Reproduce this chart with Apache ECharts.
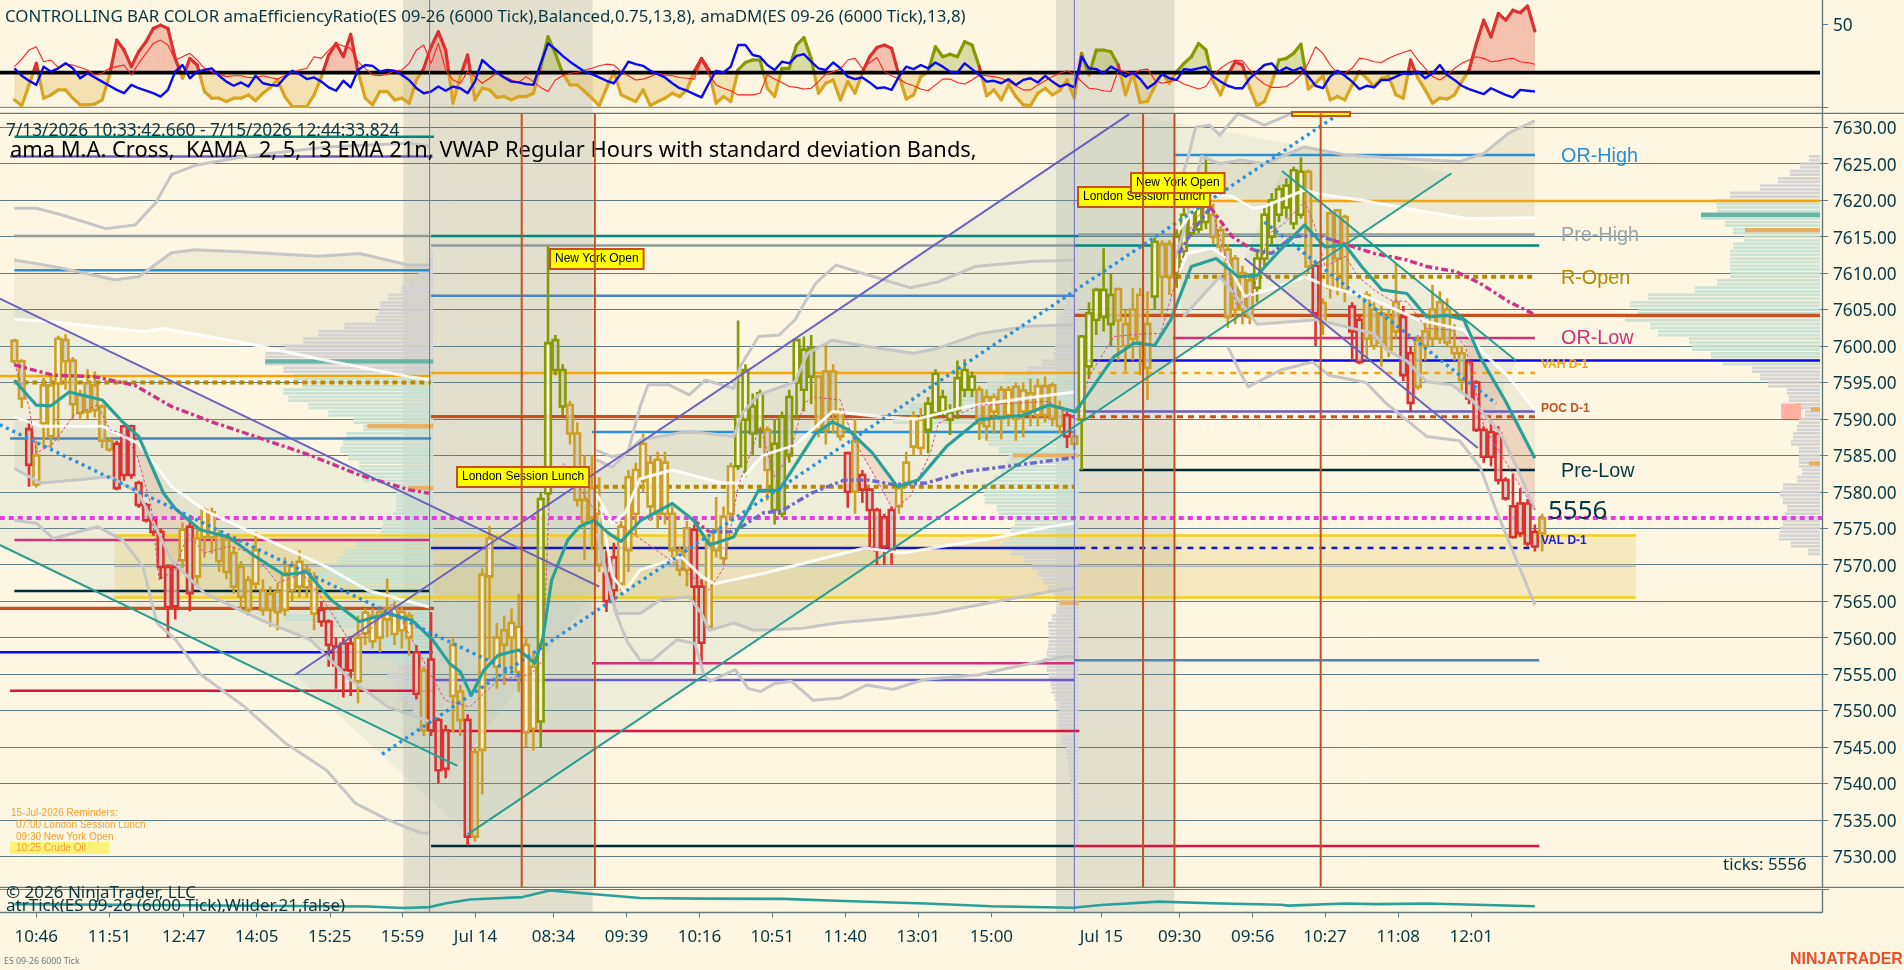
<!DOCTYPE html>
<html><head><meta charset="utf-8">
<style>html,body{margin:0;padding:0;background:#fdf6e3}#c{width:1904px;height:970px}</style>
<script src="https://cdn.jsdelivr.net/npm/echarts@6/dist/echarts.min.js"></script></head>
<body><div id="c"></div>
<script>
// ---------- DATA ----------
const priceTicks=[7530,7535,7540,7545,7550,7555,7560,7565,7570,7575,7580,7585,7590,7595,7600,7605,7610,7615,7620,7625,7630];
const timeLabels=['10:46','11:51','12:47','14:05','15:25','15:59','Jul 14','08:34','09:39','10:16','10:51','11:40','13:01','15:00','Jul 15','09:30','09:56','10:27','11:08','12:01'];
const timeTickBars=[3,13,23.16,33.15,43.15,53.08,63.08,73.75,83.73,93.73,103.66,113.67,123.66,133.65,148.7,159.4,169.4,179.3,189.3,199.3];
// rows: open, close, high, low
const barsSessionOne=[
[7600.7,7597.9,7601,7597.5],[7597.9,7592.8,7598.2,7591.5],[7588.6,7583.7,7590,7580.7],[7581,7585,7587,7580.6],[7589.4,7594.6,7595.6,7586],
[7587.6,7594.6,7596,7586],[7594.9,7601,7601.4,7587],[7600.8,7597.9,7601.6,7594],[7598,7592,7598.5,7590],[7593.3,7590.8,7594,7589.8],
[7594.9,7591,7596.8,7590],[7594.6,7591.2,7596.5,7590.2],[7591.7,7587,7592,7586],[7587,7585.8,7587.5,7585.5],[7586.6,7580.5,7587,7580.2],
[7589,7582.3,7589.2,7581.5],[7589,7582.3,7589.2,7581.8],[7581.2,7578.2,7581.5,7577.8],[7578.2,7576.1,7578.5,7575.8],[7576.1,7574.5,7576.5,7574],
[7574.5,7569.7,7575,7568],[7569.7,7564.2,7570,7560],[7569.7,7564.3,7570,7562.5],[7570.6,7574.8,7575.8,7569.5],[7575.2,7566.1,7575.8,7563.6],
[7568.4,7573.6,7575,7567],[7573.8,7577.5,7577.8,7571],[7573.8,7577.2,7577.8,7571.5],[7574,7570.5,7574.8,7569],[7573.5,7569,7574.2,7568],
[7571.6,7567,7572.5,7566],[7569.7,7565.6,7570.5,7563.5],[7567.9,7563.8,7568.5,7563],[7567.4,7572,7574.5,7566.5],[7566.5,7563.8,7568,7563],
[7566,7563.8,7567,7561.5],[7566.3,7563.5,7567.5,7561],[7563.8,7568.8,7571,7563],[7566.5,7569.8,7570.5,7565],[7567,7570.4,7572,7565.5],
[7566.9,7569.3,7570,7565.5],[7563.3,7568.3,7569,7561],[7563.8,7562.2,7565,7561.5],[7562.2,7559,7562.5,7556],[7558.8,7556.2,7560,7553],
[7559.2,7555.6,7560,7551.8],[7559.2,7555.5,7560,7552],[7554,7560,7563,7551],[7560.6,7563.4,7564,7559],[7559.5,7563,7564,7558.5],
[7560,7563.5,7564,7558],[7562.5,7564,7568.1,7560],[7560.5,7564,7565,7559],[7561,7563.5,7564.3,7558.5],[7560,7563,7563.5,7557.5],
[7558,7552.3,7559,7551.5],[7555.5,7547.3,7556,7546.5]];
const barsSessionTwo=[
[7557,7547.3,7563.5,7546.5],[7548.7,7541.8,7549,7540],[7547.3,7542,7548,7540.7],[7552,7559,7560,7547],[7552.6,7548.7,7553.5,7546.5],
[7548.7,7532.7,7549.5,7531.5],[7544.3,7532.7,7545,7532],[7544.6,7568.6,7569.5,7538.5],[7568.4,7573.6,7575.3,7557],[7556,7560,7562,7553],
[7561,7559,7563,7553.5],[7560,7562,7564,7555],[7555.3,7561.5,7566,7552.5],[7547,7559,7560,7545],[7547.5,7556,7558,7544.5],
[7548.5,7579,7580,7545],[7579.8,7600.4,7613.7,7578],[7600.8,7596.7,7601.5,7596],[7596.7,7591.7,7597.5,7590.5],[7591.9,7588,7592.5,7586.5],
[7588,7578.9,7589.5,7578],[7578.9,7575.8,7585,7570.6],[7580.5,7576.5,7585,7572],[7577,7570,7582,7569],[7568.8,7565,7572,7563.5],
[7571,7566.5,7573,7564.8],[7567.4,7575.2,7576,7566.5],[7572,7582,7583,7569],[7577,7583,7584,7574],[7581.5,7586.6,7588,7580],
[7578,7584,7585,7576],[7577,7584.4,7585.5,7575],[7577,7584,7585.5,7575.5],[7577,7572,7578,7571],[7572,7569.3,7572.5,7568.4],
[7575,7569.3,7576,7567],[7574.8,7567,7575.5,7555],[7567,7559.3,7568,7556.7],[7561.5,7573,7574,7561],[7572,7574.8,7579.3,7571],
[7570.9,7576.6,7578,7570],[7577,7583.5,7584,7576],[7583.5,7590.3,7603.5,7583],[7589.9,7596.7,7597.5,7582],[7591.7,7588,7593.5,7585],
[7588.5,7593.5,7594,7586],[7588.5,7583,7589,7578.8],[7586.6,7577.5,7590,7575.5],[7590.3,7577,7591,7576.5],[7593,7585,7594,7584],
[7595,7600.8,7601,7590],[7599.5,7594,7601.3,7591],[7599.7,7595.8,7601.5,7592],[7595.8,7588.5,7596,7587.5],[7596.5,7588.5,7600.4,7586.5],
[7596.5,7590.8,7597.5,7588],[7590.8,7587.6,7591.5,7587],[7585.3,7580,7585.5,7577.8],[7587,7580,7590,7577],[7582.3,7580.3,7583,7578.5],
[7580.3,7577.5,7580.5,7572],[7577.5,7572,7577.8,7570],[7576.5,7572.5,7577,7570],[7577.5,7572,7578,7570],[7578,7580.5,7581,7577],
[7581.2,7584,7585.5,7580.5],[7586.2,7590.3,7591,7585],[7586,7589.9,7591.5,7585],[7588.5,7592.1,7593,7585.3],[7590.8,7596.2,7596.8,7590],
[7591,7593,7594,7590.5],[7589.9,7590.8,7592,7587.8],[7591.2,7595.6,7598,7590],[7594,7596.7,7598.2,7593],[7594,7595.8,7596.5,7593],
[7594,7589.4,7594.5,7587.1],[7593,7589,7594,7587],[7591,7593,7593.5,7588],[7594,7590,7594.5,7587.2],[7590.5,7594,7594.5,7589],
[7594.4,7590,7595,7587],[7591,7593.9,7595,7587.5],[7593.5,7591,7595.5,7589],[7590.5,7594.5,7595.5,7589],[7594.5,7590.5,7595.8,7589.5],
[7594.6,7590,7595,7589],[7591.5,7589,7592.5,7588],[7590.5,7587.6,7591,7586]];
const barsSessionThree=[
[7587.6,7586.6,7588.5,7585.8],[7589.9,7601.3,7601.5,7583],[7597.2,7604.5,7606,7595.5],[7603.6,7607.7,7608,7601.5],[7604,7607.7,7613.4,7602],
[7607,7603,7610,7600],[7607.8,7603.5,7608,7598],[7603,7600,7605,7596.5],[7605,7601,7608,7598],[7607,7600.5,7608,7596],
[7603,7597,7607.5,7592.6],[7606.8,7614.3,7614.9,7605],[7614,7609.5,7614.5,7604],[7614,7609.5,7614.5,7607],[7610,7615,7616,7608],
[7613,7618,7619,7612],[7615.5,7619.5,7620,7615],[7616,7619,7622,7615.5],[7617,7621,7626,7616],[7618,7615,7619.5,7614],
[7615.9,7613.6,7616.5,7612.5],[7613.2,7604,7614,7602.5],[7612,7605,7612.5,7603],[7610,7605,7611,7603],[7609,7604,7610,7603],
[7608,7612,7613,7606],[7612,7618,7619,7611],[7615,7620,7621,7614],[7618,7621.5,7622,7617],[7619,7622,7623,7617.5],
[7616.8,7624.1,7624.6,7616],[7618,7623.9,7625.9,7617.5],[7623.9,7610.9,7624.2,7610],[7611,7604.5,7611.5,7600],[7605.9,7603.2,7606.5,7601.5],
[7618.2,7608,7618.5,7606.5],[7618.6,7612,7618.8,7607],[7617.7,7607.7,7618,7606],[7605.4,7602,7606,7598],[7603.6,7597.8,7604,7597.5],
[7607,7601,7607.5,7598],[7605,7600,7606,7599.5],[7604.5,7600.5,7605.5,7597.2],[7604,7599.5,7605,7598.5],[7606,7602,7611.3,7601],
[7604,7596,7605.5,7595.2],[7599,7592.2,7600,7591],[7600.8,7594.4,7601.5,7594],[7602,7600,7603.5,7598],[7605,7601,7608.4,7600],
[7606,7601,7607.5,7600.3],[7605,7600.5,7606.5,7599.8],[7599.9,7599,7603,7598],[7599,7595.3,7600,7593.5],[7597.8,7592.8,7598,7592],
[7595,7588.5,7595.3,7588.2],[7588.5,7584.8,7589,7584],[7588.2,7584.8,7589.5,7583.5],[7588,7581.6,7589,7581],[7581.6,7579.1,7582,7578.8],
[7578,7573.8,7582.5,7573.6],[7578.4,7574.3,7580.5,7573.8],[7578.4,7572.9,7579,7572.5],[7574.5,7572.5,7575.5,7571.8],[7576.4,7574.3,7577,7571.8]];
const barColorRuns=[['g',2],['r',1],['g',11],['r',9],['g',1],['r',1],['g',17],['r',5],['g',8],['r',1],['g',1],['r',3],['g',2],['r',1],['g',9],['o',4],['g',5],['r',2],['g',10],['r',2],['g',4],['o',4],['g',1],['o',6],['g',4],['r',1],['g',1],['r',5],['g',4],['o',7],['g',12],['r',1],['g',1],['o',5],['g',5],['o',1],['g',2],['o',5],['g',6],['o',7],['g',1],['r',1],['g',4],['r',2],['g',5],['r',2],['g',7],['r',10]];

const efficiencyRatio=[-41,-48,-23,3,-39,-35,-29,-29,-39,-47,-47,-46,-41,-12,31,19,-1,17,29,45,49,45,9,-15,9,1,-31,-39,-39,-43,-39,-39,-35,-42,-33,-26,-17,-37,-49,-49,-49,-35,-13,13,27,11,38,-7,-39,-47,-31,-31,-41,-39,-45,-17,-3,23,41,19,-45,-13,13,-41,-27,-29,-38,-37,-41,-37,-37,-33,-1,35,15,-9,-23,-23,-31,-39,-48,-27,-7,-35,-39,-43,-29,-48,-43,-39,-33,-37,-29,-7,9,-5,-45,-37,-43,-5,4,7,7,-27,-37,-3,-3,25,34,9,-33,-21,-17,-41,-19,-33,-8,11,22,25,21,-11,-40,-35,-13,-7,23,11,14,11,29,25,-1,-36,-29,-41,-23,-37,-47,-48,-33,-27,-35,-30,-17,-39,15,-11,19,19,17,1,-35,-9,-44,-43,-25,-8,-21,-7,3,11,27,19,-19,-35,-11,5,1,-27,-48,-43,-21,7,9,15,26,-28,-21,-12,-41,-37,-41,-23,-7,-15,-25,-15,-13,-35,-39,7,-15,-29,-45,-39,-40,-35,-19,-5,27,55,35,63,55,67,64,72,42];
const directionalMove=[-3,-12,-18,-23,-1,-7,-3,3,-3,-15,-9,-14,-19,-24,-29,-33,-23,-27,-30,-33,-37,-29,-7,1,-15,-7,-5,-3,-12,-19,-24,-20,-25,-12,-21,-23,-24,-14,-6,-10,-16,-14,-19,-26,-30,-18,-26,-5,1,0,-7,-5,-6,-11,-17,-27,-33,-31,-25,-30,-25,-27,-33,-19,7,-1,-8,-14,-19,-20,-22,-23,3,27,20,12,5,-1,-7,-10,-14,-18,-21,-9,5,2,0,-6,-10,-14,-21,-27,-30,-34,-38,-21,-6,-8,-1,25,25,13,11,1,-5,5,3,12,14,5,-3,-5,4,-3,-13,-16,-14,-20,-27,-26,-29,-13,-1,-4,1,-3,4,-1,-7,-8,3,-4,-11,-19,-18,-21,-16,-23,-17,-15,-20,-12,-19,-25,-22,-26,11,-3,-4,-9,-1,-6,-13,-8,-16,-27,-21,-10,-15,-17,-4,-5,-3,-1,-13,-19,-24,-27,-27,-15,-7,1,3,-7,-2,-6,-2,-13,-24,-27,-13,-6,-12,-19,-28,-24,-26,-17,-17,-13,-9,-10,-7,-15,-9,1,-11,-17,-24,-28,-31,-34,-27,-31,-35,-38,-29,-30,-31];
const ratioSignal=[-1,8,19,23,5,7,-2,2,1,-2,-5,-11,-9,-3,-1,1,-11,3,15,27,31,25,7,11,15,7,-3,-7,-10,-13,-12,-12,-14,-14,-12,-14,-16,-12,-8,-5,-3,11,9,19,27,24,21,5,-3,-11,-12,-10,-6,-5,3,19,25,3,27,-5,-17,-21,-7,-13,-21,-15,-8,-13,-17,-20,-13,-19,-26,-31,-17,-12,-9,-8,-5,-3,0,2,1,-7,-12,-17,-16,-13,-9,-11,-12,-14,-15,-16,7,-10,-23,-27,-30,-35,-35,-35,-33,-11,-16,-20,-25,-26,-28,-27,-19,-10,-7,-4,7,9,-3,4,10,-7,-12,-16,-21,-24,-28,-30,-23,-16,-16,-20,-22,-17,-11,-12,-13,-15,-19,-24,-29,-29,-23,-18,-13,-9,-6,-10,-19,-27,-28,-30,-31,-5,-7,-10,-5,-4,-17,-21,-19,-17,-22,-25,-28,-25,-11,-3,3,7,6,-5,-15,-22,-26,-26,-25,-19,-11,3,23,15,1,-9,-9,-3,9,8,5,4,9,13,16,19,7,-3,-13,-17,-11,-3,3,7,11,9,5,6,8,9,5,4,2];
const efficiencyLevel=-8.2, lowerIndicatorLine=-50;

const atrBars=[0,48.3,53.3,56.8,58.9,62.3,69.5,73.2,79,85.6,94,105.2,113.5,124.7,133.6,144.8,148.7,156.5,163.8,173.2,174.3,182.1,186.5,193.2,208];
const atrValues=[27,19,14,17,29,42,50,72,60,47,45,44,37,29,20,15,24,35,30,25,22,29,27,29,20];

const emaLine=[[0,7595.3],[2,7593],[3,7591.9],[5,7591.8],[7.5,7593.7],[12,7592.6],[14.8,7589.6],[17,7587.6],[20.4,7579.8],[22,7577.7],[25.4,7574.8],[29.3,7573.8],[32.7,7571.3],[36.9,7568.6],[40,7569],[43.3,7565.2],[47.2,7562.2],[51.1,7563.3],[54.4,7562.4],[57.2,7559.7],[59.5,7556.5],[61,7555.3],[62.5,7552.1],[64.2,7555.5],[66.2,7557.6],[69,7558.3],[71.2,7556.5],[72.3,7560],[73.5,7567.9],[75.7,7573.4],[77.3,7575.2],[79.3,7576.1],[81.3,7574.3],[83,7573.2],[85.6,7576],[90,7578.4],[92.9,7576.1],[95.1,7572.7],[98.4,7573.8],[101.8,7580.2],[104.6,7580.2],[109.6,7588],[111.9,7589.6],[114.1,7588.5],[117.4,7585.3],[120.8,7580.7],[123.6,7581.6],[127.5,7586.2],[132,7589.9],[138,7590.5],[141.5,7591.9],[145.1,7591],[146.8,7593.3],[150.4,7598.5],[153.2,7600.4],[156,7600.1],[158.2,7603.6],[161,7610.9],[164.4,7612],[167.4,7609.5],[170,7609.7],[173.2,7613.2],[176.5,7616.6],[179.3,7613.6],[182,7613.9],[184.3,7610.9],[187.1,7607.7],[190.5,7607.2],[193.2,7604],[196,7604.2],[198.3,7603.6],[200.5,7598.5],[203.9,7592.6],[208,7584.6]];
const kamaLine=[[0,7597.6],[2,7591.7],[3,7585.3],[5.3,7586.6],[8.1,7590.5],[11.4,7591.9],[13.1,7588.5],[14.8,7588],[16.7,7585.3],[18.7,7578],[19.8,7567.9],[22,7569.3],[23.7,7574.3],[26,7571.6],[29.3,7572.5],[32.7,7571.6],[36,7567.5],[39.4,7568.8],[42.2,7565.2],[45.5,7560.1],[48.3,7560.6],[51.7,7564.7],[58.9,7551.4],[62.3,7550.5],[66.2,7554.2],[70.7,7555],[72.3,7556.9],[73.2,7579.8],[75.1,7583.9],[79,7578],[85,7574],[92,7569],[95,7566.5],[97,7569.5],[99,7580.7],[100.7,7585.3],[102,7589],[104,7582],[106,7585],[108,7592.1],[109.3,7593],[113,7592.6],[114.6,7587.6],[118,7581.6],[120.2,7577.5],[122.5,7579.3],[125.3,7585.3],[126.4,7589.4],[132,7591.9],[141.5,7592.4],[145.4,7589.9],[147,7595.8],[150.4,7601.3],[154.9,7601.7],[156.8,7601.7],[159.3,7610.4],[161,7616.4],[163.5,7620],[166,7610.9],[167.2,7605.4],[169.4,7607.2],[171.6,7615.4],[173.7,7616.8],[176.5,7619.8],[177.9,7616.4],[179.3,7610.9],[182.1,7612.3],[183.8,7609.5],[186,7607.7],[188.2,7606.3],[190.5,7606.1],[193.2,7602.4],[196.6,7602.2],[198.5,7599.9],[201,7589],[204.4,7583.4],[208,7577.5]];

const oneUpper2=[[0,7618.9],[3,7618.9],[6.4,7618],[12.5,7616.1],[16.5,7616.6],[19.3,7619.6],[21.5,7623.5],[24.8,7624.8],[31.6,7626],[42.7,7627.3],[53.9,7627.8],[56.8,7627.4]];
const oneUpper1=[[0,7611.8],[3,7611.3],[6.4,7610.7],[13.7,7609.1],[17,7609.5],[21.5,7612.8],[24.8,7613.2],[31.6,7612.9],[41.6,7612.3],[47.2,7612.7],[53.9,7611.1],[56.8,7611.1]];
const oneVwap=[[0,7603.7],[5.3,7603.3],[17.6,7602],[20.4,7602.4],[31.5,7600.4],[42.7,7598],[53.9,7595.8],[56.7,7595.4]];
const oneVwapLow=[[0,7590.3],[3.6,7589],[12,7589],[17,7586.6],[21.5,7580.7],[26,7577.5],[32.7,7574.3],[42.7,7569.7],[48.3,7566.5],[56.7,7564.2]];
const oneLower1=[[0,7583.2],[3.6,7581.2],[8.1,7581.6],[13.1,7582.1],[17,7579.8],[19.3,7575.2],[21.5,7570.6],[26,7566.1],[33.8,7562.4],[40.5,7559.7],[46,7554.2],[51.1,7550.5],[56.7,7548.5]];
const oneLower2=[[0,7576.1],[3,7575.7],[5.3,7573.6],[11.4,7575.2],[14.8,7573.4],[17.6,7569.7],[19.5,7562],[22.1,7559.7],[25.4,7555],[31.5,7550.5],[37.1,7545.5],[42.7,7541.8],[46.6,7537.3],[51.1,7535],[55.6,7533.2],[56.8,7533.2]];

const twoUpper2=[[79.6,7585.7],[81.8,7584.8],[83.9,7585.3],[85.6,7591.7],[86.7,7594.7],[89.5,7594.7],[92.3,7593.3],[94.5,7595.3],[98.4,7594.2],[99.3,7597.2],[101.8,7601.3],[104.6,7601.5],[106.8,7603.6],[109.6,7608.6],[112.4,7611.1],[116.9,7609.7],[122.5,7608],[126.4,7608.8],[131.4,7610.9],[139,7611.6],[145,7611.8]];
const twoUpper1=[[79.6,7584.4],[81.8,7583.4],[85.6,7587.1],[92.3,7588.3],[98.4,7587.6],[99.6,7590.8],[101.8,7593.3],[106.8,7595.1],[108.5,7599],[111.9,7600.8],[116.9,7599.9],[123,7599],[126.4,7599.7],[132,7601.7],[138.7,7602.7],[145,7602.9]];
const twoVwap=[[79.6,7579.8],[81.8,7575.7],[83.5,7577],[85.6,7581.8],[90,7583],[96.8,7581.2],[99,7581.2],[102.4,7585],[106.8,7586.4],[111.9,7591],[118.6,7590.3],[123.6,7590],[130.3,7591.7],[138,7592.8],[145,7593.7]];
const twoVwapLow=[[80.2,7578],[81.8,7568.4],[83.5,7566.3],[85.6,7569.3],[91.2,7571.1],[94,7568.4],[95.7,7567.4],[102.4,7568.8],[108,7570.2],[116.3,7572.3],[121.4,7571.6],[134.8,7573.8],[141.5,7575.2],[145,7575.7]];
const twoLower1=[[80.2,7572],[81.3,7567],[82.4,7563.3],[85.6,7563.3],[88.4,7565.2],[92.3,7565.6],[94,7563.3],[95.1,7561],[98.4,7562],[101.2,7561],[108,7561.3],[112.4,7562],[119.1,7562.6],[125.8,7563.3],[133.1,7564.7],[141.5,7566.3],[145,7566.8]];
const twoLower2=[[79.7,7574.3],[82.2,7563.5],[83.9,7559.3],[85.6,7556.9],[87.3,7556.9],[90.6,7559.7],[93.1,7559.2],[94.3,7555],[95.1,7554],[98.6,7555.6],[100.4,7553],[102.1,7552.6],[104,7553.7],[106.3,7554],[109.3,7551.4],[113,7551.7],[116.6,7553.5],[120.2,7552.9],[124.7,7554.3],[132,7554.9],[135.9,7555.8],[143.7,7557.4],[145,7557.4]];
const twoDashPink=[[92.9,7576.1],[95.1,7574.5]];
const twoDashPurple=[[95.1,7574.5],[98.4,7574.5],[102.4,7577.1],[105,7577.4],[109,7579.8],[113.5,7581.6],[116.9,7581.6],[120.2,7581],[124.7,7581.2],[130.3,7582.8],[135.9,7583.5],[145,7584.7]];

const threeUpper2=[[159.9,7623.7],[160.7,7626.4],[161.6,7630],[163.5,7630.3],[164.9,7628.9],[167.4,7631.9],[171,7630.3],[174.3,7631.7],[176.5,7633.7],[190,7640],[208,7650]];
const threeUpper1=[[158.8,7612],[159.9,7615.5],[162.4,7626],[164.9,7625],[167.7,7625.5],[171,7625],[176.5,7627.3],[182.1,7626.2],[189.9,7625.7],[197.7,7625.3],[201,7626.4],[204.4,7629.2],[208,7630.9]];
const threeVwap=[[159.3,7615.9],[161,7618.2],[163.4,7620.9],[166.6,7620.5],[169.4,7618.9],[170.9,7619.1],[176.5,7621.4],[178.2,7620.9],[184.3,7620],[193.2,7618.4],[198.8,7617.5],[208,7617.6]];
const threeVwapLow=[[159.3,7610],[160.4,7612.7],[163.8,7613.4],[165.5,7612.3],[168.3,7606.8],[171.6,7607.7],[176.5,7609.5],[179.8,7608.1],[184.9,7606.8],[192.1,7603.6],[198.3,7602.2],[201,7599],[204.4,7595.8],[208,7591.2]];
const threeLower1=[[159.9,7604],[164.9,7609.5],[167,7607],[170,7603],[178.2,7603.6],[186,7601.7],[187.7,7599.5],[190.5,7597.9],[193.2,7595.1],[196.6,7594.7],[199.4,7592.6],[203.3,7588],[205.5,7583.4],[208,7577.5]];
const threeLower2=[[166,7599.9],[167.7,7596.3],[168.8,7594.4],[173.2,7596.7],[177.6,7597.8],[179.8,7596],[184.9,7595],[187.7,7592.1],[193.2,7587.6],[197.7,7587],[200.5,7583.4],[202.7,7577.5],[205.5,7570.6],[208,7564.5]];
const threeDashPink=[[163.6,7619],[166.6,7615],[169.4,7613.2]];
const threeDashPurple=[[159.3,7612.7],[161,7615.5],[163.6,7619]];
const threeDashPurpleB=[[169.4,7613.2],[172,7612.7],[174.8,7615],[178.2,7615.2],[180.4,7614.5]];
const threeDashPinkB=[[180.4,7614.5],[186,7612.7],[190.5,7611.8],[193.2,7610.9],[197.2,7610.2],[200.5,7608.6],[204.4,7606.1],[208,7604.3]];
const oneDashPink=[[0,7597.4],[5.3,7596],[10.9,7595.8],[16.5,7594.6],[21.5,7591.7],[27,7589.6],[33.8,7587.3],[40.5,7585],[47.2,7582.3],[53.9,7580.3],[56.7,7579.8]];

const channelFalling={top:[[-2,7606.5],[80,7567]],bottom:[[-2,7572.7],[60.6,7542.4]]};
const channelRising={top:[[38.4,7554.9],[152.5,7631.8]],bottom:[[62,7533],[196.6,7623.7]]};
const channelLate={top:[[168.3,7612],[200.2,7586]],bottom:[[173.4,7624],[205.4,7598]]};
const dottedTrends=[[[50.3,7544],[181,7631.7]],[[-2,7589.2],[69.5,7554.6]],[[171,7617],[202.7,7592.1]]];

const shadedSessions=[[53.2,79.1],[142.5,158.7]];
const sessionStartBars=[56.8,145];
const eventBars=[69.4,79.4,154.4,158.7,178.7];
const zoneTop=[[13.7,7574],[221.8,7574]], zoneBottom=[[13.7,7565.5],[221.8,7565.5]];
// start bar, end bar, price, style name
const levels=[
[0,57.4,7628.7,'teal'],[-0.6,57.2,7626,'purple'],[0,56.8,7615.1,'gray'],[57,145.6,7615.1,'teal'],[57,145,7613.8,'gray'],[145,208.6,7613.8,'teal'],[145.5,208,7615.3,'gray'],
[0,56.8,7610.4,'blue'],[57,145,7606.9,'steel'],[158.8,208,7626.2,'blue'],[163.3,247,7619.9,'orange'],[-2,57,7595.9,'orange'],[57,145,7596.3,'orange'],[145,208,7596.3,'orangeDash'],
[0,57,7595,'goldDot'],[79.4,145,7580.7,'goldDot'],[157.7,208,7609.5,'goldDot'],[57,145,7590.3,'poc'],[145.5,208,7590.3,'pocDash'],[-2,57.4,7564,'poc'],[145,247,7604.2,'poc'],
[145.7,208,7583,'dark'],[146.5,247,7598,'royal'],[57,145.7,7572.3,'navy'],[145.7,208,7572.3,'navyDash'],[-2,57.2,7558,'royal'],[57,145,7554.2,'purple'],[145,208,7591,'purple'],
[0,56.8,7573.4,'pink'],[79,145,7556.5,'pink'],[158.5,208,7601.1,'pink'],[-0.6,57.2,7552.7,'crimson'],[57,145.7,7547.2,'crimson'],[145,208.6,7531.4,'crimson'],
[0,56.8,7566.4,'dark'],[57,145,7531.4,'dark'],[-0.6,57,7587.3,'steel'],[145,208.6,7556.9,'steel'],[79,145,7588.2,'blue'],
[13.7,221.8,7574,'yellow'],[13.7,221.8,7565.5,'yellow'],[13.7,221.8,7569.8,'thinDot'],[-2,247.28,7576.4,'magDot']];

const profileOneTop=7613, profileOne=[3,5,10,15,24,32,45,53,55,58,89,115,130,148,168,168,150,140,131,150,145,125,105,80,70,87,90,93,85,74,74,70,40,37,37,37,40,50,52,52,78,88,95,107,117,95,78,70,66,120,150,100,74,62,62,60,40,35,46,40,35,35,25,20,8,5];
const profileTwoTop=7615, profileTwo=[3,4,5,5,6,6,8,8,10,12,15,20,23,23,23,24,25,37,52,74,92,129,140,170,182,186,100,100,90,80,70,72,78,84,96,95,94,82,80,64,68,70,76,68,55,47,41,36,31,25,20,22,27,31,30,30,31,32,35,32,30,28,27,24,20,20,20,20,18,17,13,12,11,10,9,8,6,4,4,4,4,4,4,4];
const profileThreeTop=7626, profileThree=[11,20,30,42,60,90,104,103,119,95,87,76,87,90,90,90,90,103,125,172,190,182,195,170,162,131,128,109,97,68,60,52,33,31,25,15,21,23,27,29,21,21,21,18,23,37,40,37,33,35,37,40,41,29,12];
const profileAnchors=[57.3,145.6,247];
const profileValueAreas=[[7596,7557],[7596,7573],[7620,7598]];
// anchor index, price, volume, kind
const profileMarks=[[0,7597.9,168,'poc'],[0,7589,66,'tag'],[0,7580.5,25,'tag'],[1,7585,66,'tag'],[1,7564.8,19,'tag'],[2,7618,119,'poc'],[2,7615.9,75,'tag'],[2,7591.3,9,'tag'],[2,7583.9,11,'tag']];
const currentPriceBox=[[241.7,7592.1],[244.4,7590]];

// ---------- HELPERS ----------
const barPx=7.31, xMin=-1.97, xMax=247.28;
const allBars=barsSessionOne.concat(barsSessionTwo,barsSessionThree);
const barColor=[];barColorRuns.forEach(([c,n])=>{for(let k=0;k<n;k++)barColor.push(c)});
const COL={g:'#cca028',o:'#859900',r:'#dc322f'};
const BG='#fdf6e3',TXT='#073642',GRIDC='#637c84';
const LV={teal:{c:'#00897b',w:2.5},gray:{c:'#8f9c9c',w:2.5},purple:{c:'#6a5cc4',w:2.5},blue:{c:'#2b8fd0',w:2.5},steel:{c:'#4a86b8',w:2.5},orange:{c:'#f5a50a',w:2.5},orangeDash:{c:'#f5a50a',w:2.5,d:[6,6]},
goldDot:{c:'#b58900',w:4,d:[5,4]},poc:{c:'#c8501e',w:3.2},pocDash:{c:'#c8501e',w:3,d:[6,5]},dark:{c:'#002b36',w:2.5},royal:{c:'#0a0af0',w:2.5},navy:{c:'#1414c8',w:2.5},navyDash:{c:'#1414c8',w:2.5,d:[6,6]},
pink:{c:'#d0307a',w:2.5},crimson:{c:'#dc143c',w:2.5},yellow:{c:'#f2cf1d',w:2.5},thinDot:{c:'#2255dd',w:1,d:[1,1]},magDot:{c:'#e23ee2',w:4,d:[5,4]}};
const lineS=(name,data,color,width,z,dash,opacity,grid=1)=>({name,type:'line',xAxisIndex:grid,yAxisIndex:grid,data,symbol:'none',silent:true,animation:false,clip:true,z,
 lineStyle:{color,width,type:dash||'solid',opacity:opacity==null?1:opacity,cap:'butt',join:'round'}});
const polyS=(name,pts,color,z,grid=1)=>({name,type:'custom',coordinateSystem:'cartesian2d',xAxisIndex:grid,yAxisIndex:grid,silent:true,clip:true,z,animation:false,
 data:[pts[0]],renderItem:(p,api)=>({type:'polygon',shape:{points:pts.map(q=>api.coord(q))},style:{fill:color}})});
const bandFill=(name,a,b,color)=>polyS(name,a.concat(b.slice().reverse()),color,3);
const vBands=(grid)=>({name:'sessions'+grid,type:'custom',coordinateSystem:'cartesian2d',xAxisIndex:grid,yAxisIndex:grid,silent:true,z:0,clip:true,animation:false,
 data:shadedSessions.map(s=>[s[0],s[1]]),encode:{x:[0,1]},renderItem:(p,api)=>{const a=api.coord([api.value(0),0])[0],b=api.coord([api.value(1),0])[0],c=p.coordSys;
 return{type:'rect',shape:{x:a,y:c.y,width:b-a,height:c.height},style:{fill:'#e3dfcf'}}}});
const vLines=(name,bars,grid,color,w,z)=>({name,type:'custom',coordinateSystem:'cartesian2d',xAxisIndex:grid,yAxisIndex:grid,silent:true,z,clip:true,animation:false,
 data:bars.map(b=>[b]),encode:{x:0},renderItem:(p,api)=>{const a=api.coord([api.value(0),0])[0],c=p.coordSys;
 return{type:'line',shape:{x1:a,y1:c.y,x2:a,y2:c.y+c.height},style:{stroke:color,lineWidth:w}}}});
const profileS=(name,idx,top,vals)=>{const rows=[];const [hi,lo]=profileValueAreas[idx];
 vals.forEach((v,k)=>{const pr=top-k;rows.push([pr,v,pr<=hi&&pr>=lo?1:0]);rows.push([pr-0.5,v,pr<=hi&&pr>=lo?1:0]);});
 return{name,type:'custom',coordinateSystem:'cartesian2d',xAxisIndex:1,yAxisIndex:1,silent:true,z:4,clip:true,animation:false,data:rows,encode:{y:0},
 renderItem:(p,api)=>{const pr=api.value(0),v=api.value(1);const r=api.coord([profileAnchors[idx],pr+.19]),l=api.coord([profileAnchors[idx]-v/barPx,pr-.19]);
 return{type:'rect',shape:{x:l[0],y:r[1],width:r[0]-l[0],height:l[1]-r[1]},style:{fill:api.value(2)?'#c6e0d2':'#d0d0d2',opacity:.9}}}}};
const markS={name:'profile marks',type:'custom',coordinateSystem:'cartesian2d',xAxisIndex:1,yAxisIndex:1,silent:true,z:4,clip:true,animation:false,data:profileMarks.map(m=>[m[0],m[1],m[2],m[3]==='poc'?1:0]),encode:{y:1},
 renderItem:(p,api)=>{const a=profileAnchors[api.value(0)],pr=api.value(1),v=api.value(2);const r=api.coord([a,pr+.3]),l=api.coord([a-v/barPx,pr-.3]);
 return{type:'rect',shape:{x:l[0],y:r[1],width:r[0]-l[0],height:l[1]-r[1]},style:{fill:api.value(3)?'#68b4a6':'#e8b064'}}}};
const candleS={name:'ES 09-26 6000 Tick',type:'custom',coordinateSystem:'cartesian2d',xAxisIndex:1,yAxisIndex:1,z:6,clip:true,animation:false,silent:true,
 data:allBars.map((b,i)=>[i,b[0],b[1],b[2],b[3]]),encode:{x:0,y:[1,2,3,4]},
 renderItem:(p,api)=>{const i=api.value(0),o=api.value(1),c=api.value(2),h=api.value(3),l=api.value(4);const col=COL[barColor[i]]||COL.g;
  const x=api.coord([i,o])[0],yO=api.coord([i,o])[1],yC=api.coord([i,c])[1],yH=api.coord([i,h])[1],yL=api.coord([i,l])[1];
  const t=Math.min(yO,yC),b=Math.max(yO,yC);
  return{type:'group',children:[
   {type:'line',shape:{x1:x,y1:yH,x2:x,y2:t},style:{stroke:col,lineWidth:2.6}},
   {type:'line',shape:{x1:x,y1:b,x2:x,y2:yL},style:{stroke:col,lineWidth:2.6}},
   {type:'rect',shape:{x:x-2.8,y:t,width:5.6,height:Math.max(b-t,1)},style:{fill:c>=o?'rgba(253,246,227,.8)':'rgba(205,205,198,.8)',stroke:col,lineWidth:2.6}}]}}};
const ratioS={name:'amaEfficiencyRatio',type:'custom',coordinateSystem:'cartesian2d',xAxisIndex:0,yAxisIndex:0,silent:true,z:5,clip:true,animation:false,
 data:efficiencyRatio.slice(0,-1).map((v,i)=>[i,v,efficiencyRatio[i+1]]),encode:{x:0,y:1},
 renderItem:(p,api)=>{const i=api.value(0),a=api.value(1),b=api.value(2),L=efficiencyLevel;const ch=[];
  const seg=(x1,v1,x2,v2)=>{const up=(v1+v2)/2>L;const k=barColor[i];const col=up?(k==='o'?COL.o:'#dc322f'):'#d9a520';const fill=up?(k==='o'?'rgba(133,153,0,.28)':'rgba(225,70,50,.3)'):'rgba(217,165,32,.25)';
   const P=api.coord([x1,v1]),Q=api.coord([x2,v2]),R=api.coord([x2,L]),S=api.coord([x1,L]);
   ch.push({type:'polygon',shape:{points:[P,Q,R,S]},style:{fill}});ch.push({type:'line',shape:{x1:P[0],y1:P[1],x2:Q[0],y2:Q[1]},style:{stroke:col,lineWidth:3.2,lineCap:'round'}});};
  if((a-L)*(b-L)<0){const t=(L-a)/(b-a);seg(i,a,i+t,L);seg(i+t,L,i+1,b);}else seg(i,a,i+1,b);
  return{type:'group',children:ch}}};

const kamaRange=(a,b)=>kamaLine.filter(q=>q[0]>=a&&q[0]<=b);
const emaRange=(a,b)=>emaLine.filter(q=>q[0]>=a&&q[0]<=b);
const series=[
 vBands(0),vBands(1),vBands(2),
 bandFill('band 1 high',oneUpper1,oneVwap,'rgba(135,130,100,.10)'),bandFill('band 1 low',oneVwapLow,oneLower1,'rgba(135,130,100,.10)'),
 bandFill('band 2 high',twoUpper1,twoVwap,'rgba(135,130,100,.10)'),bandFill('band 2 low',twoVwapLow,twoLower1,'rgba(135,130,100,.10)'),
 bandFill('band 3 high',threeUpper1,threeVwap,'rgba(135,130,100,.13)'),bandFill('band 3 low',threeVwapLow,threeLower1,'rgba(135,130,100,.10)'),
 polyS('channel falling',channelFalling.top.concat(channelFalling.bottom.slice().reverse()),'rgba(140,175,165,.13)',3),
 polyS('channel rising',channelRising.top.concat(channelRising.bottom.slice().reverse()),'rgba(140,175,165,.13)',3),
 polyS('channel late',channelLate.top.concat(channelLate.bottom.slice().reverse()),'rgba(140,175,165,.13)',3),
 bandFill('zone',zoneTop,zoneBottom,'rgba(228,198,90,.27)'),
 bandFill('pink one',emaRange(14,47),kamaRange(14,47),'rgba(225,120,100,.14)'),bandFill('pink two',emaRange(113,123),kamaRange(113,123),'rgba(225,120,100,.14)'),bandFill('pink three',emaRange(198,208),kamaRange(198,208),'rgba(225,120,100,.18)'),
 polyS('current price box',[[currentPriceBox[0][0],currentPriceBox[0][1]],[currentPriceBox[1][0],currentPriceBox[0][1]],[currentPriceBox[1][0],currentPriceBox[1][1]],[currentPriceBox[0][0],currentPriceBox[1][1]]],'#ffb0a2',5),
 profileS('profile 1',0,profileOneTop,profileOne),profileS('profile 2',1,profileTwoTop,profileTwo),profileS('profile 3',2,profileThreeTop,profileThree),markS,
 ...levels.map((l,k)=>{const s=LV[l[3]];return lineS('level'+k,[[l[0],l[2]],[l[1],l[2]]],s.c,s.w,5,s.d)}),
 candleS,
 ...[oneUpper2,oneUpper1,oneLower1,oneLower2,twoUpper2,twoUpper1,twoLower1,twoLower2,threeUpper2,threeUpper1,threeLower1,threeLower2].map((d,k)=>lineS('band'+k,d,'#c6c6c6',3,7)),
 ...[oneVwap,oneVwapLow,twoVwap,twoVwapLow,threeVwap,threeVwapLow].map((d,k)=>lineS('vwap'+k,d,'#ffffff',3,8,null,.88)),
 lineS('KAMA',kamaLine,'#d0508a',1,8,[3,2]),
 lineS('EMA 21',emaLine,'#2aa198',3.2,9),
 ...[oneDashPink,twoDashPink,threeDashPink,threeDashPinkB].map((d,k)=>lineS('dash pink'+k,d,'#cf3389',3.4,8,[7,3,3,3])),
 ...[twoDashPurple,threeDashPurple,threeDashPurpleB].map((d,k)=>lineS('dash purple'+k,d,'#6f68c8',3.4,8,[7,3,3,3])),
 lineS('falling top',channelFalling.top,'#6a62bd',2,9),lineS('rising top',channelRising.top,'#6a62bd',2,9),lineS('late top',channelLate.top,'#6a62bd',2,9),
 lineS('falling bottom',channelFalling.bottom,'#2a9d8f',2,9),lineS('rising bottom',channelRising.bottom,'#2a9d8f',2,9),lineS('late bottom',channelLate.bottom,'#2a9d8f',2,9),
 ...dottedTrends.map((d,k)=>lineS('trend'+k,d,'#2a8fdc',3.4,9,[3,4])),
 vLines('events',eventBars,1,'#c8501e',2,31),
 vLines('s0',sessionStartBars,0,'#6f6fc0',1,9),vLines('s1',sessionStartBars,1,'#6f6fc0',1,9),vLines('s2',sessionStartBars,2,'#6f6fc0',1,9),
 lineS('level line',[[xMin,efficiencyLevel],[247,efficiencyLevel]],'#000000',3.6,6,null,1,0),
 lineS('indicator floor',[[xMin,lowerIndicatorLine],[xMax,lowerIndicatorLine]],GRIDC,1,2,null,1,0),
 ratioS,
 lineS('ratio signal',ratioSignal.map((v,i)=>[i,v]),'#ff2020',1.1,7,null,1,0),
 lineS('amaDM',directionalMove.map((v,i)=>[i,v]),'#0a0af0',2.4,8,null,1,0),
 lineS('atrTick',atrBars.map((b,i)=>[b,atrValues[i]]),'#2aa198',2.6,8,null,1,2)
];

const hiddenX=(g)=>({type:'value',gridIndex:g,min:xMin,max:xMax,show:false});
const LIB='"Liberation Sans",Arial,sans-serif';
const tx=(x,y,text,size,fill,extra)=>({type:'text',x,y,z:(extra&&extra.z)||20,silent:true,style:Object.assign({text,fontSize:size,fontFamily:'"Noto Sans",sans-serif',fill,verticalAlign:'middle',align:'left'},extra&&extra.style)});
const note=(x,y,text)=>({type:'text',x,y,z:30,silent:true,style:{text,fontSize:12,fontFamily:LIB,fill:'#000',backgroundColor:'#ffff00',borderColor:'#c8501e',borderWidth:2,padding:[3,4,3,4],verticalAlign:'middle'}});
const option={
 backgroundColor:BG,animation:false,
 grid:[{left:0,width:1822,top:0,height:113.3,containLabel:false},{left:0,width:1822,top:113.3,height:774},{left:0,width:1822,top:889.5,height:22.8}],
 xAxis:[hiddenX(0),hiddenX(1),{type:'value',gridIndex:2,min:xMin,max:xMax,z:50,
  axisLine:{show:true,onZero:false,lineStyle:{color:GRIDC,width:1.4}},splitLine:{show:false},
  axisTick:{show:true,length:5,customValues:timeTickBars,lineStyle:{color:GRIDC,width:1}},
  axisLabel:{show:true,customValues:timeTickBars,margin:16,fontSize:17,fontFamily:'"Noto Sans",sans-serif',color:TXT,
   formatter:v=>{const k=timeTickBars.findIndex(b=>Math.abs(b-v)<1e-6);return k<0?'':timeLabels[k]}}}],
 yAxis:[
  {type:'value',gridIndex:0,position:'right',min:-57.2,max:79.3,z:1,splitLine:{show:false},axisLine:{show:true,onZero:false,lineStyle:{color:GRIDC,width:1.4}},
   axisTick:{show:true,length:6,customValues:[-50,50],lineStyle:{color:GRIDC}},axisLabel:{customValues:[50],margin:11,verticalAlign:'top',lineHeight:4,fontSize:17.2,fontFamily:'"Noto Sans",sans-serif',color:TXT,formatter:v=>String(v)}},
  {type:'value',gridIndex:1,position:'right',min:7525.75,max:7631.92,z:1,
   splitLine:{show:true,lineStyle:{color:GRIDC,width:1}},axisLine:{show:true,onZero:false,lineStyle:{color:GRIDC,width:1.4}},
   axisTick:{show:true,length:6,customValues:priceTicks,lineStyle:{color:GRIDC}},
   axisLabel:{customValues:priceTicks,margin:11,verticalAlign:'top',lineHeight:4,fontSize:17.2,fontFamily:'"Noto Sans",sans-serif',color:TXT,formatter:v=>v.toFixed(2)}},
  {type:'value',gridIndex:2,position:'right',min:0,max:75,z:1,splitLine:{show:false},axisLine:{show:true,onZero:false,lineStyle:{color:GRIDC,width:1.4}},axisTick:{show:false},axisLabel:{show:false}}],
 series,
 graphic:{elements:[
  {type:'line',z:12,silent:true,shape:{x1:0,y1:113.3,x2:1904,y2:113.3},style:{stroke:GRIDC,lineWidth:1.2}},
  {type:'line',z:12,silent:true,shape:{x1:0,y1:887.3,x2:1904,y2:887.3},style:{stroke:GRIDC,lineWidth:1.2}},
  {type:'line',z:12,silent:true,shape:{x1:0,y1:889.5,x2:1829,y2:889.5},style:{stroke:GRIDC,lineWidth:1.2}},
  tx(5,17,'CONTROLLING BAR COLOR amaEfficiencyRatio(ES 09-26 (6000 Tick),Balanced,0.75,13,8), amaDM(ES 09-26 (6000 Tick),13,8)',16.85,TXT),
  tx(6,131,'7/13/2026 10:33:42.660 - 7/15/2026 12:44:33.824',17.3,TXT),
  tx(10,151,'ama M.A. Cross,  KAMA  2, 5, 13 EMA 21n, VWAP Regular Hours with standard deviation Bands,',21.9,'#000'),
  tx(1561,157,'OR-High',19.8,'#2b8fd0',{style:{fontFamily:LIB}}),
  tx(1561,236,'Pre-High',19.8,'#9aa5a5',{style:{fontFamily:LIB}}),
  tx(1561,279,'R-Open',19.8,'#b58900',{style:{fontFamily:LIB}}),
  tx(1561,339,'OR-Low',19.8,'#d0307a',{style:{fontFamily:LIB}}),
  tx(1561,472,'Pre-Low',19.8,'#073642',{style:{fontFamily:LIB}}),
  tx(1541,365,'VAH D-1',12,'#f5a50a',{style:{fontFamily:LIB,fontWeight:'bold'}}),
  tx(1541,409,'POC D-1',12,'#c8501e',{style:{fontFamily:LIB,fontWeight:'bold'}}),
  tx(1541,541,'VAL D-1',12,'#1a1ae0',{style:{fontFamily:LIB,fontWeight:'bold'}}),
  tx(1548,512,'5556',26,'#073642'),
  note(551,259,'New York Open'),note(458,477,'London Session Lunch'),note(1079,197,'London Session Lunch'),note(1132,183,'New York Open'),
  {type:'rect',z:30,silent:true,shape:{x:1292,y:112,width:58,height:4},style:{fill:'#ffff00',stroke:'#c8501e',lineWidth:2}},
  {type:'rect',z:19,silent:true,shape:{x:10,y:842,width:99,height:12},style:{fill:'#fff27a'}},
  tx(11,813,'15-Jul-2026 Reminders:',10,'#f5a030',{style:{fontFamily:LIB}}),tx(16,825,'07:00 London Session Lunch',10,'#f5a030',{style:{fontFamily:LIB}}),tx(16,837,'09:30 New York Open',10,'#f5a030',{style:{fontFamily:LIB}}),tx(16,848,'10:25 Crude Oil',10,'#f5a030',{style:{fontFamily:LIB}}),
  tx(1723,865,'ticks: 5556',17,TXT),
  tx(6,893,'© 2026 NinjaTrader, LLC',17,TXT),
  tx(6,906,'atrTick(ES 09-26 (6000 Tick),Wilder,21,false)',17,TXT),
  {type:'rect',z:40,silent:true,shape:{x:0,y:913,width:1904,height:57},style:{fill:BG}},
  tx(4,961,'ES 09-26 6000 Tick',8.8,'#657b83',{z:41}),
  tx(1790,960,'NINJATRADER',15.9,'#e8502a',{z:41,style:{fontFamily:LIB,fontWeight:'bold'}})
 ]}
};
const chart=echarts.init(document.getElementById('c'),null,{renderer:'canvas',width:1904,height:970});
chart.setOption(option);
</script></body></html>
